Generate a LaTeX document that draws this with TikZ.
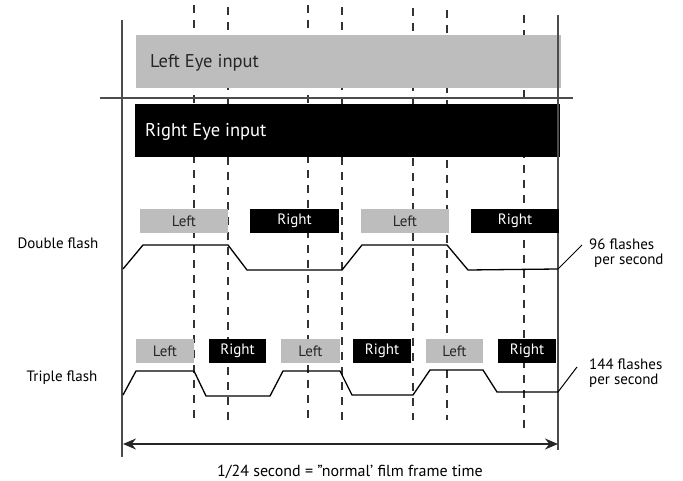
\documentclass[tikz,border=0pt]{standalone}
\usepackage{fontspec}
\setmainfont{PT Sans}
\usetikzlibrary{arrows.meta}
\definecolor{barg}{HTML}{BDBDBD}
\begin{document}
\begin{tikzpicture}[x=1pt,y=-1pt,
  frame/.style={line width=1.6pt, draw=black!70},
  dashline/.style={line width=1.4pt, draw=black!80, dash pattern=on 8pt off 7pt},
  wave/.style={line width=1.3pt, draw=black},
  bigbar/.style={inner sep=0pt, minimum width=425pt, minimum height=53pt, anchor=north west},
  smallbox/.style={inner sep=0pt, minimum height=24pt, font=\fontsize{15}{17}\selectfont},
  gbox/.style={smallbox, fill=barg, text=black!85},
  bbox/.style={smallbox, fill=black, text=white},
  lab/.style={font=\fontsize{15}{17}\selectfont, inner sep=0pt},
  biglab/.style={font=\fontsize{18.5}{21}\selectfont, inner sep=0pt, anchor=west},
]
\useasboundingbox (0,0) rectangle (683,481);

% dashed guide lines
\foreach \xx/\ya/\yb in {194/5/420, 228/7/420, 308/5/420, 342/7/420, 413/8/420, 447/10/420, 524/15/430}
  {\draw[dashline] (\xx,\ya) -- (\xx,\yb);}

% big input bars
\node[bigbar, fill=barg] (lefteye) at (136,35) {};
\node[biglab, text=black!85] (lefteyet) at (150,63) {Left Eye input};
\node[bigbar, fill=black] (righteye) at (135,104) {};
\node[biglab, text=white] (righteyet) at (145,132) {Right Eye input};

% frame lines
\draw[frame] (122,20) -- (122,457);
\draw[frame] (558,15) -- (558,450);
\draw[frame] (100,98) -- (573,98);

% double flash labels
\node[gbox, minimum width=88pt] (d1) at (184,221) {Left};
\node[bbox, minimum width=89pt] (d2) at (294.5,221) {Right};
\node[gbox, minimum width=88pt] (d3) at (405,221) {Left};
\node[bbox, minimum width=88pt] (d4) at (515,221) {Right};

% triple flash labels
\node[gbox, minimum width=58pt] (t1) at (165,351) {Left};
\node[bbox, minimum width=57pt] (t2) at (237.5,351) {Right};
\node[gbox, minimum width=59pt] (t3) at (310.5,351) {Left};
\node[bbox, minimum width=58pt] (t4) at (382,351) {Right};
\node[gbox, minimum width=57pt] (t5) at (454.5,351) {Left};
\node[bbox, minimum width=58pt] (t6) at (527,351) {Right};

% row titles
\node[lab] (dtitle) at (58,243) {Double flash};
\node[lab] (ttitle) at (62,378) {Triple flash};

% double flash waveform
\coordinate (dend) at (558,269);
\draw[wave] (123,269) -- (143,245) -- (228,245) -- (247,270) -- (342,270) -- (362,245)
  -- (447,245) -- (468,270) -- (dend);
\node[lab, align=left, anchor=west] (drate) at (589,253) {96 flashes\\[-2pt]\hspace*{5pt}per second};
\coordinate (dtick) at (582,245);
\draw[wave, line width=1pt] (dend) -- (dtick);

% triple flash waveform
\coordinate (tend) at (558,392);
\draw[wave] (123,395) -- (136,371) -- (194,371) -- (206,396) -- (270,396) -- (283,371)
  -- (340,371) -- (352,395) -- (413,395) -- (430,370) -- (483,370) -- (497,392) -- (tend);
\node[lab, align=left, anchor=west] (trate) at (589,373) {144 flashes\\[-2pt]per second};
\coordinate (ttick) at (577,367);
\draw[wave, line width=1pt] (tend) -- (ttick);

% time arrow
\coordinate (al) at (123,444);
\coordinate (ar) at (558,444);
\draw[line width=1.2pt, black!85, {Stealth[length=13pt,width=11pt]}-{Stealth[length=13pt,width=11pt]}] (al) -- (ar);
\node[lab, font=\fontsize{16}{18}\selectfont] (caption) at (350,472) {1/24 second = {\char"0022}normal{\char"0027} film frame time};
\end{tikzpicture}
\end{document}
